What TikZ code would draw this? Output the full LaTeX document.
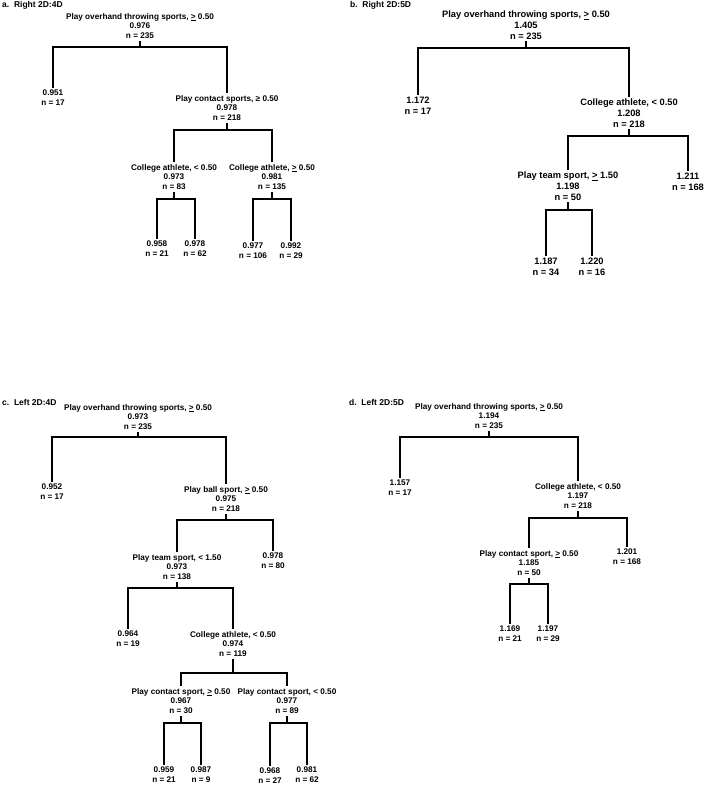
\documentclass[tikz,border=0pt]{standalone}
\usepackage{fontspec}
\setmainfont{Liberation Sans}
\newcommand{\uge}{\underline{\smash{>}}}
\begin{document}
\begin{tikzpicture}[x=1pt,y=-1pt,
  lbl/.style={align=center, inner xsep=1pt, inner ysep=3pt, anchor=north, font=\bfseries\fontsize{8.2}{9.8}\selectfont},
  lblb/.style={lbl, font=\bfseries\fontsize{9.3}{10.6}\selectfont},
  ttl/.style={anchor=west, inner sep=0pt, font=\bfseries\fontsize{8.5}{10}\selectfont},
  branch/.style={line width=2pt, line join=miter, line cap=rect}]
\useasboundingbox (0,0) rectangle (707,786);

% ---------------- panel a ----------------
\node[ttl] (aT) at (2,5) {a.\ \ Right 2D:4D};
\node[lbl] (aR) at (140,10) {Play overhand throwing sports, \uge{} 0.50\\0.976\\n = 235};
\node[lbl] (aL1) at (53,87) {0.951\\n = 17};
\node[lbl] (aS1) at (227,92) {Play contact sports, ≥ 0.50\\0.978\\n = 218};
\node[lbl] (aS2) at (174,161) {College athlete, < 0.50\\0.973\\n = 83};
\node[lbl] (aS3) at (272,161) {College athlete, \uge{} 0.50\\0.981\\n = 135};
\node[lbl] (aL2) at (157,238) {0.958\\n = 21};
\node[lbl] (aL3) at (195,238) {0.978\\n = 62};
\node[lbl] (aL4) at (253,240) {0.977\\n = 106};
\node[lbl] (aL5) at (291,240) {0.992\\n = 29};
\coordinate (aRb) at (0,47);
\coordinate (aS1b) at (0,130);
\coordinate (aS2b) at (0,199);
\coordinate (aS3b) at (0,199);
\draw[branch] (aR.south) -- (aR.south |- aRb);
\draw[branch] (aL1.north) |- (aR.south |- aRb) -| (aS1.north);
\draw[branch] (aS1.south) -- (aS1.south |- aS1b);
\draw[branch] (aS2.north) |- (aS1.south |- aS1b) -| (aS3.north);
\draw[branch] (aS2.south) -- (aS2.south |- aS2b);
\draw[branch] (aL2.north) |- (aS2.south |- aS2b) -| (aL3.north);
\draw[branch] (aS3.south) -- (aS3.south |- aS3b);
\draw[branch] (aL4.north) |- (aS3.south |- aS3b) -| (aL5.north);

% ---------------- panel b ----------------
\node[ttl] (bT) at (350,5) {b.\ \ Right 2D:5D};
\node[lblb] (bR) at (526,8) {Play overhand throwing sports, \uge{} 0.50\\1.405\\n = 235};
\node[lblb] (bL1) at (418,94) {1.172\\n = 17};
\node[lblb] (bS1) at (629,96) {College athlete, < 0.50\\1.208\\n = 218};
\node[lblb] (bS2) at (568,169) {Play team sport, \uge{} 1.50\\1.198\\n = 50};
\node[lblb] (bL2) at (688,170) {1.211\\n = 168};
\node[lblb] (bL3) at (546,255) {1.187\\n = 34};
\node[lblb] (bL4) at (592,255) {1.220\\n = 16};
\coordinate (bRb) at (0,48);
\coordinate (bS1b) at (0,136);
\coordinate (bS2b) at (0,210);
\draw[branch] (bR.south) -- (bR.south |- bRb);
\draw[branch] (bL1.north) |- (bR.south |- bRb) -| (bS1.north);
\draw[branch] (bS1.south) -- (bS1.south |- bS1b);
\draw[branch] (bS2.north) |- (bS1.south |- bS1b) -| (bL2.north);
\draw[branch] (bS2.south) -- (bS2.south |- bS2b);
\draw[branch] (bL3.north) |- (bS2.south |- bS2b) -| (bL4.north);

% ---------------- panel c ----------------
\node[ttl] (cT) at (2,402) {c.\ \ Left 2D:4D};
\node[lbl] (cR) at (138,401) {Play overhand throwing sports, \uge{} 0.50\\0.973\\n = 235};
\node[lbl] (cL1) at (52,481) {0.952\\n = 17};
\node[lbl] (cS1) at (226,483) {Play ball sport, \uge{} 0.50\\0.975\\n = 218};
\node[lbl] (cS2) at (177,551) {Play team sport, < 1.50\\0.973\\n = 138};
\node[lbl] (cL2) at (273,550) {0.978\\n = 80};
\node[lbl] (cL3) at (128,628) {0.964\\n = 19};
\node[lbl] (cS3) at (233,628) {College athlete, < 0.50\\0.974\\n = 119};
\node[lbl] (cS4) at (181,685) {Play contact sport, \uge{} 0.50\\0.967\\n = 30};
\node[lbl] (cS5) at (287,685) {Play contact sport, < 0.50\\0.977\\n = 89};
\node[lbl] (cL4) at (164,764) {0.959\\n = 21};
\node[lbl] (cL5) at (201,764) {0.987\\n = 9};
\node[lbl] (cL6) at (270,765) {0.968\\n = 27};
\node[lbl] (cL7) at (307,764) {0.981\\n = 62};
\coordinate (cRb) at (0,437);
\coordinate (cS1b) at (0,520);
\coordinate (cS2b) at (0,588);
\coordinate (cS3b) at (0,673);
\coordinate (cS4b) at (0,723);
\coordinate (cS5b) at (0,723);
\draw[branch] (cR.south) -- (cR.south |- cRb);
\draw[branch] (cL1.north) |- (cR.south |- cRb) -| (cS1.north);
\draw[branch] (cS1.south) -- (cS1.south |- cS1b);
\draw[branch] (cS2.north) |- (cS1.south |- cS1b) -| (cL2.north);
\draw[branch] (cS2.south) -- (cS2.south |- cS2b);
\draw[branch] (cL3.north) |- (cS2.south |- cS2b) -| (cS3.north);
\draw[branch] (cS3.south) -- (cS3.south |- cS3b);
\draw[branch] (cS4.north) |- (cS3.south |- cS3b) -| (cS5.north);
\draw[branch] (cS4.south) -- (cS4.south |- cS4b);
\draw[branch] (cL4.north) |- (cS4.south |- cS4b) -| (cL5.north);
\draw[branch] (cS5.south) -- (cS5.south |- cS5b);
\draw[branch] (cL6.north) |- (cS5.south |- cS5b) -| (cL7.north);

% ---------------- panel d ----------------
\node[ttl] (dT) at (349,402) {d.\ \ Left 2D:5D};
\node[lbl] (dR) at (489,400) {Play overhand throwing sports, \uge{} 0.50\\1.194\\n = 235};
\node[lbl] (dL1) at (400,477) {1.157\\n = 17};
\node[lbl] (dS1) at (578,480) {College athlete, < 0.50\\1.197\\n = 218};
\node[lbl] (dS2) at (529,547) {Play contact sport, \uge{} 0.50\\1.185\\n = 50};
\node[lbl] (dL2) at (627,546) {1.201\\n = 168};
\node[lbl] (dL3) at (510,623) {1.169\\n = 21};
\node[lbl] (dL4) at (548,623) {1.197\\n = 29};
\coordinate (dRb) at (0,437);
\coordinate (dS1b) at (0,518);
\coordinate (dS2b) at (0,584);
\draw[branch] (dR.south) -- (dR.south |- dRb);
\draw[branch] (dL1.north) |- (dR.south |- dRb) -| (dS1.north);
\draw[branch] (dS1.south) -- (dS1.south |- dS1b);
\draw[branch] (dS2.north) |- (dS1.south |- dS1b) -| (dL2.north);
\draw[branch] (dS2.south) -- (dS2.south |- dS2b);
\draw[branch] (dL3.north) |- (dS2.south |- dS2b) -| (dL4.north);
\end{tikzpicture}
\end{document}
